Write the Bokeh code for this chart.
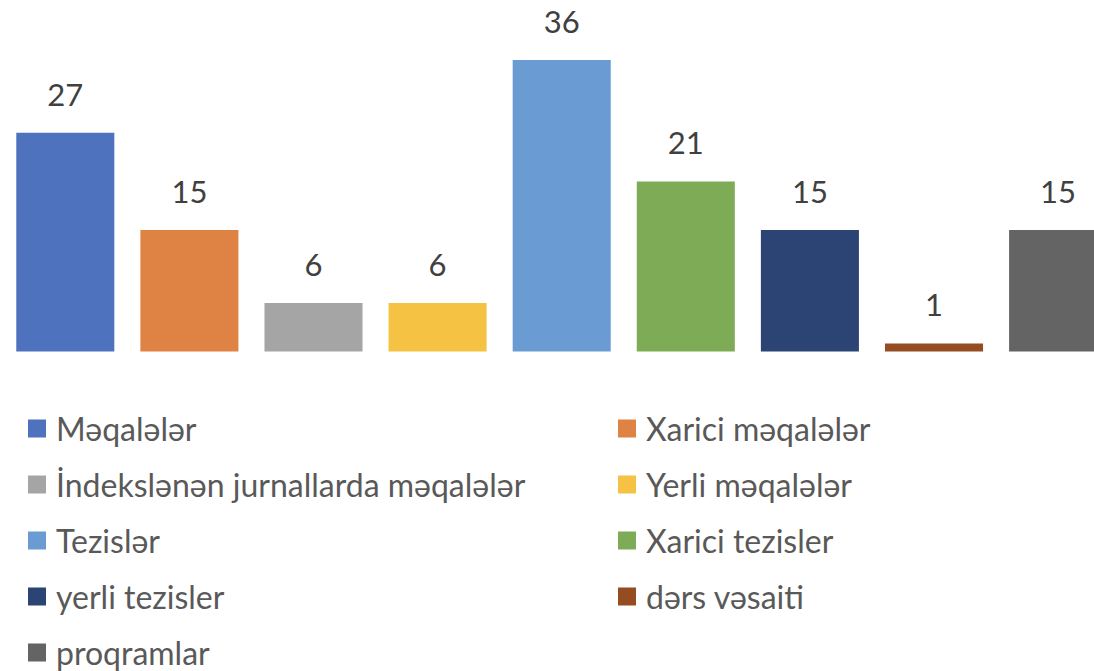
from bokeh.plotting import figure
from bokeh.models import Range1d, ColumnDataSource
from bokeh.embed import file_html
from bokeh.resources import INLINE
from bokeh.core.properties import value

categories = ["Məqalələr", "Xarici məqalələr", "İndekslənən jurnallarda məqalələr",
              "Yerli məqalələr", "Tezislər", "Xarici tezisler", "yerli tezisler",
              "dərs vəsaiti", "proqramlar"]
values = [27, 15, 6, 6, 36, 21, 15, 1, 15]
colors = ["#4F72BE", "#DF8344", "#A5A5A5", "#F6C243", "#6A9BD2",
          "#7EAB55", "#2C4474", "#954C21", "#646464"]
labels = [str(v) for v in values]

W, H = 1094, 671
STEP = 124.1           # px per category
X0_PX = 64.8           # px of first bar centre
BASE_PX = 351.0        # px from top of baseline
PPU = 8.1              # px per unit of value

x_start = -X0_PX / STEP
x_end = x_start + W / STEP
y_end = BASE_PX / PPU
y_start = -(H - BASE_PX) / PPU

def px_x(px):
    return x_start + px / STEP

def px_y(py):
    return y_end - py / PPU

FONT = "Lato"

p = figure(width=W, height=H, output_backend="svg", toolbar_location=None,
           x_range=Range1d(x_start, x_end), y_range=Range1d(y_start, y_end),
           min_border=0, outline_line_color=None)
p.axis.visible = False
p.grid.visible = False
p.background_fill_color = "white"

xs = list(range(len(values)))
src = ColumnDataSource(dict(x=xs, top=values, color=colors, label=labels, cat=categories))
p.vbar(x="x", top="top", bottom=0, width=0.79, fill_color="color", line_color=None, source=src)
p.text(x="x", y="top", text="label", source=src, text_align="center",
       text_baseline="alphabetic", y_offset=-38, text_color="#404040",
       text_font=value(FONT), text_font_size="31px")

# legend, 2 columns, row-major
col_px = [36.5, 626.5]
row0_py = 428
row_step = 56.0
lx, ly = [], []
for i in range(len(categories)):
    r, c = divmod(i, 2)
    lx.append(px_x(col_px[c]))
    ly.append(px_y(row0_py + r * row_step))
lsrc = ColumnDataSource(dict(x=lx, y=ly, color=colors, cat=categories))
p.scatter(x="x", y="y", marker="square", size=18, fill_color="color", line_color=None, source=lsrc)
p.text(x="x", y="y", text="cat", source=lsrc, x_offset=19, text_align="left",
       text_baseline="middle", text_color="#595959", text_font=value(FONT),
       text_font_size="32px")

open("out.html", "w").write(file_html(p, INLINE))
